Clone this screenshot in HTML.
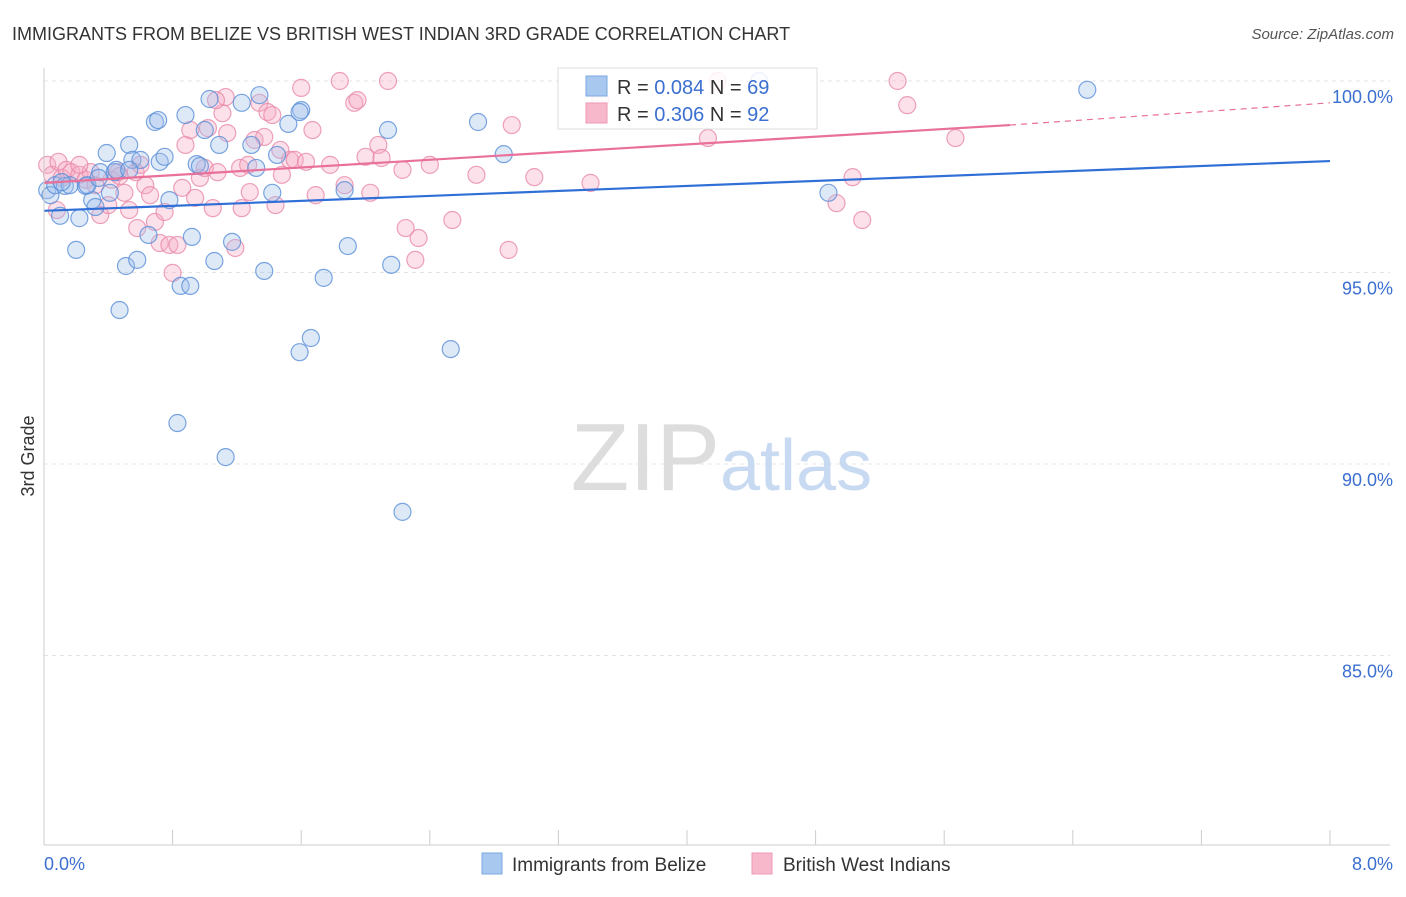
<!DOCTYPE html>
<html><head><meta charset="utf-8"><style>
body{margin:0;background:#fff;font-family:"Liberation Sans",sans-serif;}
svg text{font-family:"Liberation Sans",sans-serif;}
</style></head><body>
<svg id="chart" width="1406" height="892" viewBox="0 0 1406 892">
<text x="12" y="40" font-size="18" fill="#333">IMMIGRANTS FROM BELIZE VS BRITISH WEST INDIAN 3RD GRADE CORRELATION CHART</text>
<text x="1394" y="39" font-size="15" fill="#555" font-style="italic" text-anchor="end">Source: ZipAtlas.com</text>
<text x="34" y="456" font-size="18" fill="#333" transform="rotate(-90 34 456)" text-anchor="middle">3rd Grade</text>
<g id="grid"></g>
<text x="720" y="490" font-size="96" fill="#ddd" text-anchor="end" font-family="Liberation Serif">ZIP</text>
<text x="720" y="490" font-size="72" fill="#c8daf2">atlas</text>
<g id="points"></g>
<g id="lines"></g>
<g id="axes"></g>
<g>
<rect x="558" y="68" width="259" height="61" fill="#fff" fill-opacity="0.85" stroke="#ddd"/>
<rect x="586" y="76" width="21" height="20" fill="#a8c8f0" stroke="#7aa8e0"/>
<rect x="586" y="103" width="21" height="20" fill="#f7b8cc" stroke="#ec98b4"/>
<text x="617" y="94" font-size="20" fill="#333">R = <tspan fill="#3b6fd0">0.084</tspan>   N = <tspan fill="#3b6fd0">69</tspan></text>
<text x="617" y="121" font-size="20" fill="#333">R = <tspan fill="#3b6fd0">0.306</tspan>   N = <tspan fill="#3b6fd0">92</tspan></text>
</g>
<g>
<rect x="482" y="853" width="20" height="21" fill="#a8c8f0" stroke="#7aa8e0"/>
<text x="512" y="871" font-size="19" fill="#333">Immigrants from Belize</text>
<rect x="752" y="853" width="20" height="21" fill="#f7b8cc" stroke="#ec98b4"/>
<text x="783" y="871" font-size="19" fill="#333">British West Indians</text>
</g>
</svg>
<script>
const yTicks=[100,95,90,85];
const yTickLabels=["100.0%","95.0%","90.0%","85.0%"];
const xEndLabels=["0.0%","8.0%"];
const blueX=[0.02,0.04,0.07,0.10,0.13,0.16,0.20,0.22,0.26,0.30,0.32,0.35,0.39,0.41,0.44,0.47,0.51,0.53,0.55,0.58,0.60,0.65,0.69,0.72,0.75,0.78,0.85,0.88,0.91,0.92,0.95,0.97,1.00,1.03,1.06,1.09,1.17,1.23,1.29,1.32,1.34,1.37,1.42,1.45,1.52,1.59,1.60,1.66,1.74,1.87,1.89,2.14,2.16,2.23,2.53,2.70,2.86,4.45,4.88,6.49,0.83,1.13,0.71,0.45,0.27,0.11,0.34,0.53,1.59];
const blueY=[97.15,97.02,97.28,96.48,97.26,97.28,95.59,96.42,97.26,96.89,96.71,97.62,98.12,97.08,97.62,94.02,95.17,98.33,97.94,95.33,97.94,95.98,98.93,97.89,98.02,96.89,94.65,99.11,94.65,95.93,97.83,97.78,98.72,99.53,95.30,98.33,95.80,99.43,98.33,97.73,99.63,95.04,97.08,98.07,98.88,92.92,99.24,93.29,94.86,97.15,95.69,98.72,95.20,88.75,93.00,98.93,98.09,100.0,97.08,99.77,91.07,90.18,98.98,97.68,97.28,97.36,97.47,97.68,99.19];
const pinkX=[0.02,0.05,0.09,0.11,0.14,0.17,0.22,0.26,0.29,0.32,0.35,0.40,0.42,0.46,0.50,0.53,0.57,0.58,0.63,0.66,0.69,0.72,0.75,0.78,0.80,0.83,0.86,0.88,0.91,0.94,0.97,1.00,1.02,1.05,1.08,1.11,1.13,1.14,1.19,1.22,1.23,1.27,1.28,1.31,1.34,1.37,1.39,1.42,1.44,1.48,1.53,1.56,1.60,1.63,1.67,1.69,1.84,1.87,1.93,1.95,2.00,2.03,2.08,2.10,2.14,2.23,2.25,2.31,2.33,2.40,2.54,2.69,2.89,2.91,3.05,3.40,4.13,4.19,4.93,5.03,5.09,5.31,5.37,5.67,3.46,0.08,0.22,0.47,0.60,1.07,1.78,1.47];
const pinkY=[97.81,97.55,97.89,97.47,97.68,97.62,97.55,97.42,97.62,97.28,96.50,96.76,97.42,97.62,97.08,96.63,97.62,96.16,97.28,97.02,96.32,95.77,96.58,95.72,94.99,95.72,97.21,98.33,98.72,96.95,97.47,97.73,98.77,96.68,97.62,99.16,99.58,98.64,95.64,97.73,96.68,97.81,97.10,98.46,99.43,98.54,99.19,99.11,96.76,97.55,97.94,97.94,99.82,97.89,98.72,97.02,100.0,97.28,99.43,99.50,98.02,97.08,98.33,97.99,100.0,97.68,96.16,95.33,95.90,97.81,96.37,97.55,95.59,98.85,97.49,97.34,98.51,100.0,96.81,97.49,96.37,100.0,99.37,98.51,99.50,96.63,97.81,97.52,97.81,99.50,97.81,98.20];
const blueTrend=[[0,96.61],[8,97.91]];
const pinkTrendSolid=[[0,97.34],[6.01,98.85]];
const pinkTrendDash=[[6.01,98.85],[8,99.43]];
const NS='http://www.w3.org/2000/svg';
const xs=v=>44+v*160.75;
const ys=v=>81+(100-v)*38.3;
function mk(tag,attrs,parent){const e=document.createElementNS(NS,tag);for(const k in attrs)e.setAttribute(k,attrs[k]);parent.appendChild(e);return e;}
const grid=document.getElementById('grid'),axes=document.getElementById('axes'),pts=document.getElementById('points'),lines=document.getElementById('lines');
yTicks.forEach((t,i)=>{
 const l=mk('line',{x1:44,x2:1390,y1:ys(t),y2:ys(t),stroke:'#e4e4e4','stroke-dasharray':'4,4'},grid);
 
 
 const tx=mk('text',{x:1393,y:ys(t)+22,'font-size':18,fill:'#3b6fd0','text-anchor':'end'},axes);
 tx.textContent=yTickLabels[i];
 
 
});
const ax=mk('line',{x1:44,x2:44,y1:68,y2:845,stroke:'#ccc'},axes);


const bx=mk('line',{x1:44,x2:1390,y1:845,y2:845,stroke:'#ccc'},axes);


for(let i=0;i<=10;i++){
 const t=mk('line',{x1:xs(i*0.8),x2:xs(i*0.8),y1:830,y2:845,stroke:'#ccc'},axes);
 
 
}
[[0,44,'start'],[8,1393,'end']].forEach((d,i)=>{
 const t=mk('text',{x:d[1],y:870,'font-size':18,fill:'#3b6fd0','text-anchor':d[2]},axes);
 t.textContent=xEndLabels[i];
 
 
});
function drawPts(X,Y,fill,stroke,name){
 X.forEach((x,i)=>{
  const c=mk('circle',{cx:xs(x),cy:ys(Y[i]),r:8.5,fill:fill,'fill-opacity':0.35,stroke:stroke,'stroke-opacity':0.8,'stroke-width':1.2},pts);
  
  
 });
}
drawPts(pinkX,pinkY,'#f5a8c2','#e88aaa','pink-point');
drawPts(blueX,blueY,'#a0c0ec','#5a8ed8','blue-point');
function ln(p,color,dash,name){
 const l=mk('line',{x1:xs(p[0][0]),y1:ys(p[0][1]),x2:xs(p[1][0]),y2:ys(p[1][1]),stroke:color,'stroke-width':dash?1.2:2.2,'stroke-dasharray':dash||'none'},lines);
 
 
}
ln(blueTrend,'#2f6fd6',null,'blue-trend-line');
ln(pinkTrendSolid,'#e8709a',null,'pink-trend-line');
ln(pinkTrendDash,'#e8709a','6,5','pink-trend-extension');
</script>
</body></html>
